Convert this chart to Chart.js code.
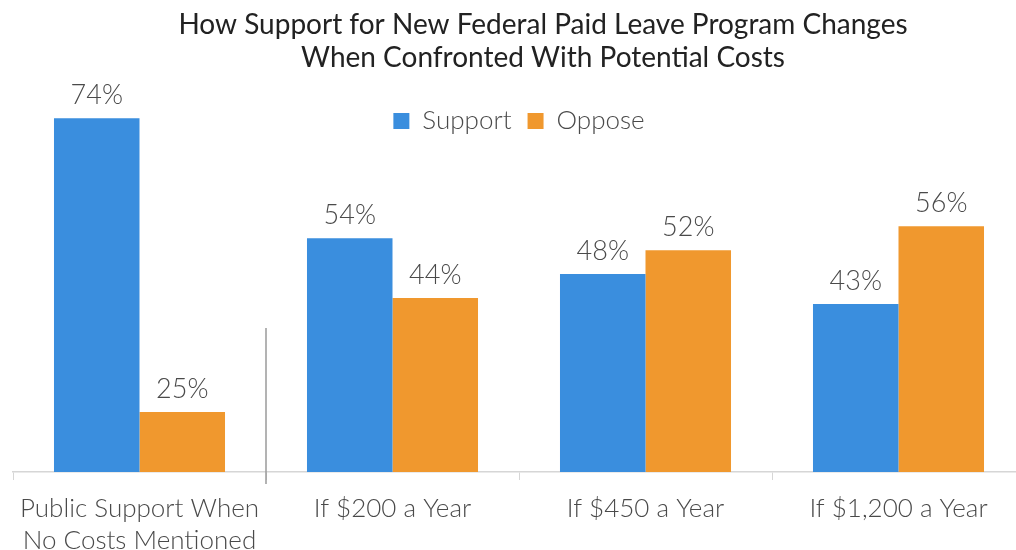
<!DOCTYPE html>
<html>
<head>
<meta charset="utf-8">
<script src="https://cdn.jsdelivr.net/npm/chart.js@4.4.1/dist/chart.umd.min.js"></script>
<style>
  html, body { margin: 0; padding: 0; background: #fff; overflow: hidden; }
  #wrap { width: 1040px; height: 550px; }
</style>
</head>
<body>
<div id="wrap"><canvas id="leaveChart" width="1040" height="550"></canvas></div>
<script>
// data
const categories = [
  ['Public Support When', 'No Costs Mentioned'],
  'If $200 a Year',
  'If $450 a Year',
  'If $1,200 a Year'
];
const supportValues = [74, 54, 48, 43];
const opposeValues = [25, 44, 52, 56];
const titleLines = [
  'How Support for New Federal Paid Leave Program Changes',
  'When Confronted With Potential Costs'
];

const COLORS = {
  support: '#3a8ede',
  oppose: '#f0982e',
  title: '#222222',
  text: '#4a4a4a',
  axis: '#d6d6d6',
  divider: '#9a9a9a'
};
const FONT = 'Lato, "Open Sans", sans-serif';

// title drawn by hand so it can sit off-centre like the original
const titlePlugin = {
  id: 'twoLineTitle',
  afterDraw(chart) {
    const ctx = chart.ctx;
    ctx.save();
    ctx.font = '400 28px ' + FONT;
    ctx.fillStyle = COLORS.title;
    ctx.textAlign = 'center';
    ctx.textBaseline = 'middle';
    titleLines.forEach((line, i) => ctx.fillText(line, 543, 25 + i * 33));
    ctx.restore();
  }
};

// percentage labels above each bar
const valueLabels = {
  id: 'valueLabels',
  afterDatasetsDraw(chart) {
    const ctx = chart.ctx;
    ctx.save();
    ctx.font = '300 27px ' + FONT;
    ctx.fillStyle = COLORS.text;
    ctx.textAlign = 'center';
    ctx.textBaseline = 'alphabetic';
    chart.data.datasets.forEach((ds, di) => {
      chart.getDatasetMeta(di).data.forEach((bar, i) => {
        ctx.fillText(ds.data[i] + '%', bar.x, bar.y - 14);
      });
    });
    ctx.restore();
  }
};

// the taller divider between the first group and the cost scenarios
const dividerPlugin = {
  id: 'divider',
  afterDraw(chart) {
    const x = chart.scales.x;
    const y = chart.scales.y;
    const px = (x.getPixelForValue(0) + x.getPixelForValue(1)) / 2;
    const ctx = chart.ctx;
    ctx.save();
    ctx.strokeStyle = COLORS.divider;
    ctx.lineWidth = 1.5;
    ctx.beginPath();
    ctx.moveTo(px, y.getPixelForValue(39));
    ctx.lineTo(px, y.bottom + 12);
    ctx.stroke();
    ctx.restore();
  }
};

new Chart(document.getElementById('leaveChart'), {
  type: 'bar',
  data: {
    labels: categories,
    datasets: [
      {
        label: 'Support',
        data: supportValues,
        backgroundColor: COLORS.support,
        categoryPercentage: 0.676,
        barPercentage: 1,
        base: 15,
        clip: false
      },
      {
        label: 'Oppose',
        data: opposeValues,
        backgroundColor: COLORS.oppose,
        categoryPercentage: 0.676,
        barPercentage: 1,
        base: 15,
        clip: false
      }
    ]
  },
  options: {
    responsive: false,
    animation: false,
    layout: { padding: { top: 92, left: 13, right: 15, bottom: 0 } },
    plugins: {
      title: { display: false },
      tooltip: { enabled: false },
      legend: {
        position: 'top',
        align: 'center',
        labels: {
          boxWidth: 16,
          boxHeight: 16,
          padding: 16,
          color: COLORS.text,
          font: { family: FONT, size: 26, weight: '300' }
        }
      }
    },
    scales: {
      x: {
        offset: true,
        border: { display: true, color: COLORS.axis, width: 1.5 },
        grid: {
          offset: true,
          drawOnChartArea: false,
          drawTicks: true,
          tickLength: 8,
          color: COLORS.axis
        },
        ticks: {
          color: COLORS.text,
          padding: 13,
          maxRotation: 0,
          font: { family: FONT, size: 26, weight: '300', lineHeight: 1.23 }
        },
        afterFit(scale) { scale.height = 78; }
      },
      y: {
        display: false,
        min: 15,
        max: 69.7
      }
    }
  },
  plugins: [titlePlugin, valueLabels, dividerPlugin]
});
</script>
</body>
</html>
